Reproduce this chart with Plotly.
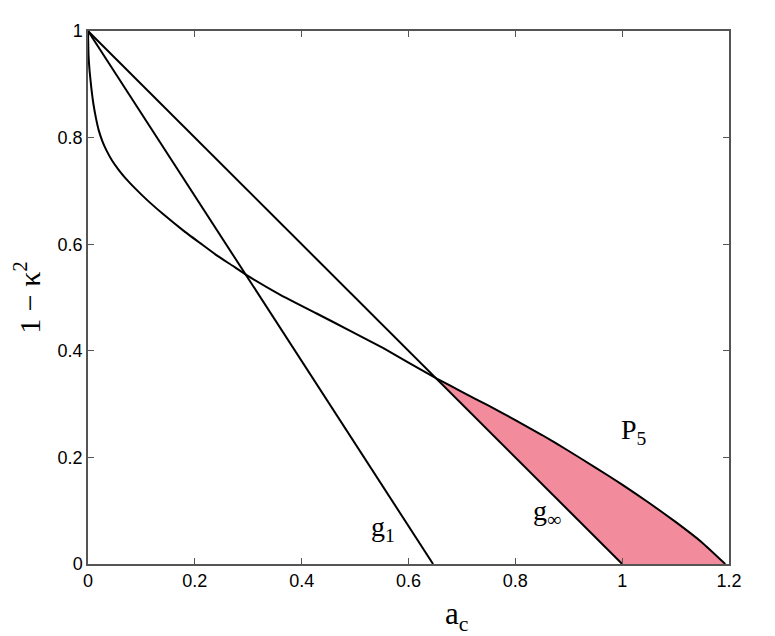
import plotly.graph_objects as go

# g1 and g_inf straight lines (endpoints)
g1_x = [0.0, 0.646]
g1_y = [1.0, 0.0]
ginf_x = [0.0, 1.0]
ginf_y = [1.0, 0.0]

# P5 curve
p5_x = [0.0, 0.001, 0.003, 0.006, 0.010, 0.015, 0.020, 0.027, 0.035, 0.045, 0.057,
        0.070, 0.085, 0.100, 0.116, 0.14, 0.178, 0.21, 0.241, 0.27, 0.297, 0.36,
        0.428, 0.49, 0.553, 0.60, 0.653, 0.70, 0.75, 0.80, 0.85, 0.90, 0.95, 1.0,
        1.05, 1.10, 1.15, 1.193]
p5_y = [1.0, 0.955, 0.925, 0.895, 0.864, 0.836, 0.814, 0.793, 0.775, 0.757, 0.740,
        0.724, 0.708, 0.693, 0.678, 0.657, 0.626, 0.602, 0.579, 0.560, 0.542, 0.505,
        0.470, 0.438, 0.405, 0.378, 0.348, 0.323, 0.297, 0.270, 0.242, 0.212, 0.181, 0.149,
        0.115, 0.079, 0.040, 0.0]

# shaded region: between g_inf and P5 beyond their crossing
cross_x = 0.653
region_top_x = [x for x in p5_x if x >= cross_x]
region_top_y = [y for x, y in zip(p5_x, p5_y) if x >= cross_x]
fill_x = region_top_x + [ginf_x[1], cross_x]
fill_y = region_top_y + [ginf_y[1], ginf_y[0] - cross_x * (ginf_y[0] - ginf_y[1]) / (ginf_x[1] - ginf_x[0])]

x_ticks = [0, 0.2, 0.4, 0.6, 0.8, 1, 1.2]
x_tick_text = ["0", "0.2", "0.4", "0.6", "0.8", "1", "1.2"]
y_ticks = [0, 0.2, 0.4, 0.6, 0.8, 1]
y_tick_text = ["0", "0.2", "0.4", "0.6", "0.8", "1"]

fig = go.Figure()
fig.add_trace(go.Scatter(x=fill_x, y=fill_y, fill="toself", fillcolor="#F28B9C",
                         line=dict(width=0), mode="lines", hoverinfo="skip"))
line_style = dict(color="black", width=2)
fig.add_trace(go.Scatter(x=g1_x, y=g1_y, mode="lines", line=line_style))
fig.add_trace(go.Scatter(x=ginf_x, y=ginf_y, mode="lines", line=line_style))
fig.add_trace(go.Scatter(x=p5_x, y=p5_y, mode="lines",
                         line=dict(color="black", width=2, shape="spline", smoothing=0.4)))

serif = "Liberation Serif, Times New Roman, serif"
ann = [
    dict(x=0.552, y=0.066, text="g<sub>1</sub>"),
    dict(x=0.86, y=0.097, text="g<sub>∞</sub>"),
    dict(x=1.023, y=0.248, text="P<sub>5</sub>"),
]
for a in ann:
    fig.add_annotation(x=a["x"], y=a["y"], xref="x", yref="y", text=a["text"],
                       showarrow=False, font=dict(family=serif, size=28, color="black"))

fig.add_annotation(x=0.69, y=-0.097, xref="x", yref="paper", text="a<sub>c</sub>", showarrow=False,
                   font=dict(family=serif, size=31, color="black"), yanchor="middle")

axis_common = dict(showline=True, linecolor="#555555", linewidth=1.5, mirror="ticks",
                   ticks="inside", ticklen=6, tickcolor="#555555", tickwidth=1,
                   showgrid=False, zeroline=False,
                   tickfont=dict(family="Liberation Sans, Arial, sans-serif", size=18, color="black"))

fig.update_xaxes(range=[0, 1.2], tickvals=x_ticks, ticktext=x_tick_text, **axis_common)
fig.update_yaxes(range=[0, 1], tickvals=y_ticks, ticktext=y_tick_text,
                 title=dict(text="1 − κ<sup>2</sup>", font=dict(family=serif, size=30, color="black"), standoff=16),
                 **axis_common)

fig.update_layout(width=767, height=628, showlegend=False,
                  margin=dict(l=80, r=46, t=23, b=72),
                  plot_bgcolor="white", paper_bgcolor="white")

fig.write_html("out.html")
